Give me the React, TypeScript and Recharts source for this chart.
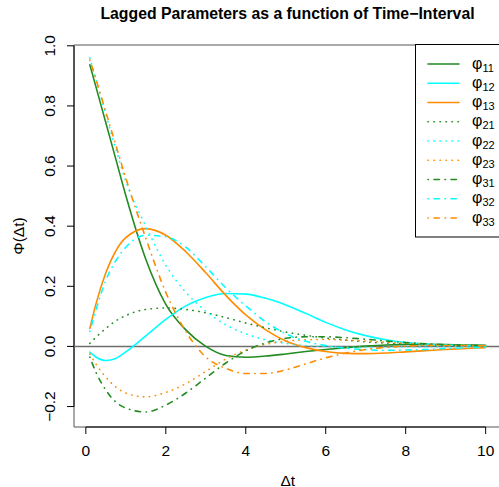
import React from 'react';
import { LineChart, Line, XAxis, YAxis, ReferenceLine, ReferenceArea, Legend, Label } from 'recharts';

// time intervals (Δt) and lagged parameter values
const DT = [0.1, 0.25, 0.5, 0.75, 1, 1.5, 2, 2.5, 3, 3.5, 4, 4.5, 5, 5.5, 6, 6.5, 7, 7.5, 8, 8.5, 9, 9.5, 10];

const PHI11 = [0.937, 0.865, 0.744, 0.623, 0.502, 0.29, 0.14, 0.055, 0.0, -0.03, -0.036, -0.032, -0.025, -0.017, -0.01, -0.004, 0.001, 0.005, 0.007, 0.007, 0.006, 0.005, 0.004];
const PHI12 = [-0.019, -0.035, -0.047, -0.04, -0.018, 0.035, 0.09, 0.135, 0.163, 0.176, 0.174, 0.16, 0.138, 0.11, 0.08, 0.055, 0.036, 0.022, 0.013, 0.008, 0.005, 0.003, 0.002];
const PHI13 = [0.06, 0.14, 0.245, 0.318, 0.362, 0.392, 0.37, 0.315, 0.245, 0.17, 0.105, 0.055, 0.018, -0.004, -0.017, -0.023, -0.024, -0.022, -0.018, -0.014, -0.01, -0.007, -0.004];
const PHI21 = [0.01, 0.03, 0.06, 0.085, 0.103, 0.123, 0.128, 0.123, 0.112, 0.096, 0.078, 0.062, 0.048, 0.037, 0.028, 0.021, 0.015, 0.011, 0.008, 0.006, 0.004, 0.003, 0.002];
const PHI22 = [0.96, 0.89, 0.772, 0.658, 0.55, 0.4, 0.27, 0.18, 0.118, 0.072, 0.042, 0.022, 0.01, 0.003, -0.001, -0.003, -0.003, -0.003, -0.002, -0.002, -0.001, -0.001, 0.0];
const PHI23 = [-0.025, -0.058, -0.102, -0.135, -0.155, -0.168, -0.153, -0.124, -0.083, -0.042, -0.012, 0.007, 0.017, 0.022, 0.023, 0.021, 0.018, 0.014, 0.011, 0.008, 0.005, 0.003, 0.002];
const PHI31 = [-0.035, -0.085, -0.145, -0.185, -0.205, -0.218, -0.195, -0.155, -0.105, -0.055, -0.015, 0.012, 0.027, 0.032, 0.032, 0.029, 0.024, 0.018, 0.013, 0.009, 0.006, 0.004, 0.003];
const PHI32 = [0.05, 0.12, 0.22, 0.285, 0.33, 0.37, 0.365, 0.33, 0.265, 0.195, 0.135, 0.082, 0.042, 0.017, 0.003, -0.006, -0.011, -0.013, -0.012, -0.01, -0.007, -0.005, -0.003];
const PHI33 = [0.953, 0.89, 0.78, 0.67, 0.56, 0.36, 0.18, 0.05, -0.035, -0.073, -0.09, -0.09, -0.078, -0.058, -0.038, -0.022, -0.01, -0.003, 0.001, 0.003, 0.003, 0.003, 0.002];

const X_TICKS = [0, 2, 4, 6, 8, 10];
const Y_TICKS = [-0.2, 0, 0.2, 0.4, 0.6, 0.8, 1.0];

const X_MIN = -0.296;
const X_MAX = 10.396;
const Y_MIN = -0.268;
const Y_MAX = 1.0027;

const GREEN = '#228B22';
const CYAN = '#00FFFF';
const ORANGE = '#FF8C00';
const LW = 1.6;
const DOTTED = '0.4 5.6';
const DASHDOT = '0.4 5.6 5.4 5.6';

const SERIES = [
  { key: 'phi11', sub: '11', values: PHI11, color: GREEN, dash: undefined },
  { key: 'phi12', sub: '12', values: PHI12, color: CYAN, dash: undefined },
  { key: 'phi13', sub: '13', values: PHI13, color: ORANGE, dash: undefined },
  { key: 'phi21', sub: '21', values: PHI21, color: GREEN, dash: DOTTED },
  { key: 'phi22', sub: '22', values: PHI22, color: CYAN, dash: DOTTED },
  { key: 'phi23', sub: '23', values: PHI23, color: ORANGE, dash: DOTTED },
  { key: 'phi31', sub: '31', values: PHI31, color: GREEN, dash: DASHDOT },
  { key: 'phi32', sub: '32', values: PHI32, color: CYAN, dash: DASHDOT },
  { key: 'phi33', sub: '33', values: PHI33, color: ORANGE, dash: DASHDOT },
];

const data = DT.map((t, i) => {
  const row: Record<string, number> = { t };
  SERIES.forEach((s) => {
    row[s.key] = s.values[i];
  });
  return row;
});

const FONT = '"Liberation Sans", Arial, Helvetica, sans-serif';
const fmt = (v: number) => v.toFixed(1).replace('-', '\u2212');

function XTick({ x, y, payload }: any) {
  return (
    <text x={x} y={y + 21.5} textAnchor="middle" fontFamily={FONT} fontSize={15.5} fill="#000">
      {payload.value}
    </text>
  );
}

function YTick({ x, y, payload }: any) {
  const tx = x - 11.5;
  return (
    <text
      x={tx}
      y={y}
      textAnchor="middle"
      transform={`rotate(-90, ${tx}, ${y})`}
      fontFamily={FONT}
      fontSize={15.5}
      fill="#000"
    >
      {fmt(payload.value)}
    </text>
  );
}

function LegendBox() {
  return (
    <svg width={90} height={196} style={{ display: 'block' }}>
      <rect x={0.5} y={0.5} width={120} height={192.5} fill="#fff" stroke="#000" strokeWidth={1} />
      {SERIES.map((s, i) => {
        const cy = 20 + i * 19.25;
        return (
          <g key={s.key}>
            <line
              x1={13}
              x2={44}
              y1={cy}
              y2={cy}
              stroke={s.color}
              strokeWidth={LW}
              strokeDasharray={s.dash}
              strokeLinecap="round"
            />
            <text x={57} y={cy + 4.5} fontFamily={FONT} fontSize={16} fill="#000">
              φ
              <tspan fontSize={11} dy={3}>
                {s.sub}
              </tspan>
            </text>
          </g>
        );
      })}
    </svg>
  );
}

export default function App() {
  return (
    <div
      style={{
        position: 'absolute',
        left: 0,
        top: 0,
        width: 499,
        height: 487,
        overflow: 'hidden',
        background: '#fff',
      }}
    >
      <svg width={499} height={40} style={{ position: 'absolute', left: 0, top: 0 }}>
        <text x={287.5} y={18.5} textAnchor="middle" fontFamily={FONT} fontWeight="bold" fontSize={15.8} fill="#000">
          Lagged Parameters as a function of Time{'\u2212'}Interval
        </text>
      </svg>
      <LineChart width={502} height={487} data={data} margin={{ top: 45, right: 0.5, bottom: 0, left: 0 }}>
        <XAxis
          dataKey="t"
          type="number"
          domain={[X_MIN, X_MAX]}
          ticks={X_TICKS}
          allowDataOverflow
          height={60}
          tickSize={7}
          tickMargin={0}
          axisLine={false}
          tickLine={{ stroke: '#000' }}
          tick={<XTick />}
          interval={0}
        >
          <Label
            content={({ viewBox }: any) => (
              <text
                x={viewBox.x + viewBox.width / 2}
                y={viewBox.y + 58.5}
                textAnchor="middle"
                fontFamily={FONT}
                fontSize={15.5}
                fill="#000"
              >
                Δt
              </text>
            )}
          />
        </XAxis>
        <YAxis
          type="number"
          domain={[Y_MIN, Y_MAX]}
          ticks={Y_TICKS}
          allowDataOverflow
          width={74}
          tickSize={7}
          tickMargin={0}
          axisLine={false}
          tickLine={{ stroke: '#000' }}
          tick={<YTick />}
          interval={0}
        >
          <Label
            content={({ viewBox }: any) => {
              const cx = 24;
              const cy = viewBox.y + viewBox.height / 2;
              return (
                <text
                  x={cx}
                  y={cy}
                  textAnchor="middle"
                  transform={`rotate(-90, ${cx}, ${cy})`}
                  fontFamily={FONT}
                  fontSize={15.5}
                  fill="#000"
                >
                  Φ(Δt)
                </text>
              );
            }}
          />
        </YAxis>
        <ReferenceArea
          x1={X_MIN}
          x2={X_MAX}
          y1={Y_MIN}
          y2={Y_MAX}
          fill="none"
          fillOpacity={0}
          stroke="#555"
          strokeWidth={1}
          ifOverflow="visible"
        />
        <ReferenceLine
          segment={[
            { x: 0, y: Y_MIN },
            { x: 10, y: Y_MIN },
          ]}
          stroke="#000"
          strokeWidth={1}
          ifOverflow="visible"
        />
        <ReferenceLine
          segment={[
            { x: X_MIN, y: -0.2 },
            { x: X_MIN, y: 1.0 },
          ]}
          stroke="#000"
          strokeWidth={1}
          ifOverflow="visible"
        />
        <ReferenceLine y={0} stroke="#6e6e6e" strokeWidth={1.5} />
        {SERIES.map((s) => (
          <Line
            key={s.key}
            dataKey={s.key}
            type="monotone"
            stroke={s.color}
            strokeWidth={LW}
            strokeDasharray={s.dash}
            strokeLinecap="round"
            dot={false}
            activeDot={false}
            isAnimationActive={false}
          />
        ))}
        <Legend
          layout="horizontal"
          verticalAlign="middle"
          align="center"
          wrapperStyle={{ position: 'absolute', left: 415, top: 44, width: 90, height: 196 }}
          content={() => <LegendBox />}
        />
      </LineChart>
    </div>
  );
}
